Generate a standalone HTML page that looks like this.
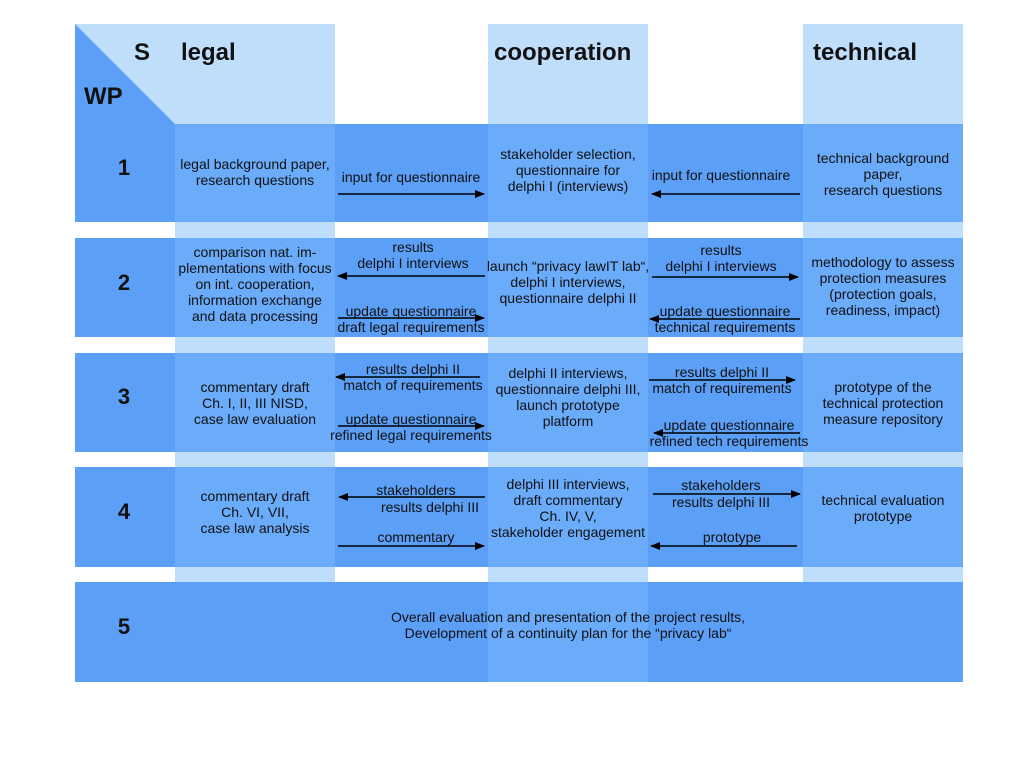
<!DOCTYPE html>
<html><head><meta charset="utf-8"><style>
html,body{margin:0;padding:0;background:#fff;}
svg{display:block;}
text{font-family:"Liberation Sans",Arial,sans-serif;fill:#111;}
.t{font-size:14px;text-anchor:middle;}
.h{font-size:24px;font-weight:bold;}
.n{font-size:22px;font-weight:bold;text-anchor:middle;}
</style></head><body>
<svg width="1024" height="768" viewBox="0 0 1024 768" xmlns="http://www.w3.org/2000/svg">
<defs>
<marker id="a" markerWidth="10" markerHeight="8" refX="9" refY="4" orient="auto" markerUnits="userSpaceOnUse">
<path d="M0,0 L10,4 L0,8 z" fill="#000"/></marker>
</defs>
<rect x="75" y="24" width="100" height="100" fill="#bfdefc"/>
<polygon points="75,24 175,124 75,124" fill="#5b9ff7"/>
<rect x="175" y="24" width="160" height="658" fill="#bfdefc"/>
<rect x="488" y="24" width="160" height="658" fill="#bfdefc"/>
<rect x="803" y="24" width="160" height="658" fill="#bfdefc"/>
<g fill="#5b9ff7">
<rect x="75" y="124" width="888" height="98"/>
<rect x="75" y="238" width="888" height="99"/>
<rect x="75" y="353" width="888" height="99"/>
<rect x="75" y="467" width="888" height="100"/>
<rect x="75" y="582" width="888" height="100"/>
</g>
<g fill="#6aabfa">
<rect x="175" y="124" width="160" height="98"/><rect x="488" y="124" width="160" height="98"/><rect x="803" y="124" width="160" height="98"/>
<rect x="175" y="238" width="160" height="99"/><rect x="488" y="238" width="160" height="99"/><rect x="803" y="238" width="160" height="99"/>
<rect x="175" y="353" width="160" height="99"/><rect x="488" y="353" width="160" height="99"/><rect x="803" y="353" width="160" height="99"/>
<rect x="175" y="467" width="160" height="100"/><rect x="488" y="467" width="160" height="100"/><rect x="803" y="467" width="160" height="100"/>
<rect x="488" y="582" width="160" height="100"/>
</g>
<text class="h" x="134" y="60">S</text>
<text class="h" x="181" y="60">legal</text>
<text class="h" x="494" y="60">cooperation</text>
<text class="h" x="813" y="60">technical</text>
<text class="h" x="84" y="104">WP</text>
<text class="n" x="124" y="175">1</text>
<text class="n" x="124" y="290">2</text>
<text class="n" x="124" y="404">3</text>
<text class="n" x="124" y="519">4</text>
<text class="n" x="124" y="634">5</text>
<g class="t">
<text class="t" x="255" y="169">legal background paper,</text>
<text class="t" x="255" y="185">research questions</text>
<text class="t" x="411" y="182">input for questionnaire</text>
<text class="t" x="568" y="159">stakeholder selection,</text>
<text class="t" x="568" y="175">questionnaire for</text>
<text class="t" x="568" y="191">delphi I (interviews)</text>
<text class="t" x="721" y="180">input for questionnaire</text>
<text class="t" x="883" y="163">technical background</text>
<text class="t" x="883" y="179">paper,</text>
<text class="t" x="883" y="195">research questions</text>
<text class="t" x="255" y="257">comparison nat. im-</text>
<text class="t" x="255" y="273">plementations with focus</text>
<text class="t" x="255" y="289">on int. cooperation,</text>
<text class="t" x="255" y="305">information exchange</text>
<text class="t" x="255" y="321">and data processing</text>
<text class="t" x="413" y="252">results</text>
<text class="t" x="413" y="268">delphi I interviews</text>
<text class="t" x="411" y="316">update questionnaire</text>
<text class="t" x="411" y="332">draft legal requirements</text>
<text class="t" x="568" y="271">launch “privacy lawIT lab“,</text>
<text class="t" x="568" y="287">delphi I interviews,</text>
<text class="t" x="568" y="303">questionnaire delphi II</text>
<text class="t" x="721" y="255">results</text>
<text class="t" x="721" y="271">delphi I interviews</text>
<text class="t" x="725" y="316">update questionnaire</text>
<text class="t" x="725" y="332">technical requirements</text>
<text class="t" x="883" y="267">methodology to assess</text>
<text class="t" x="883" y="283">protection measures</text>
<text class="t" x="883" y="299">(protection goals,</text>
<text class="t" x="883" y="315">readiness, impact)</text>
<text class="t" x="413" y="374">results delphi II</text>
<text class="t" x="413" y="390">match of requirements</text>
<text class="t" x="411" y="424">update questionnaire</text>
<text class="t" x="411" y="440">refined legal requirements</text>
<text class="t" x="255" y="392">commentary draft</text>
<text class="t" x="255" y="408">Ch. I, II, III NISD,</text>
<text class="t" x="255" y="424">case law evaluation</text>
<text class="t" x="568" y="378">delphi II interviews,</text>
<text class="t" x="568" y="394">questionnaire delphi III,</text>
<text class="t" x="568" y="410">launch prototype</text>
<text class="t" x="568" y="426">platform</text>
<text class="t" x="722" y="377">results delphi II</text>
<text class="t" x="722" y="393">match of requirements</text>
<text class="t" x="729" y="430">update questionnaire</text>
<text class="t" x="729" y="446">refined tech requirements</text>
<text class="t" x="883" y="392">prototype of the</text>
<text class="t" x="883" y="408">technical protection</text>
<text class="t" x="883" y="424">measure repository</text>
<text class="t" x="416" y="495">stakeholders</text>
<text class="t" x="430" y="512">results delphi III</text>
<text class="t" x="416" y="542">commentary</text>
<text class="t" x="255" y="501">commentary draft</text>
<text class="t" x="255" y="517">Ch. VI, VII,</text>
<text class="t" x="255" y="533">case law analysis</text>
<text class="t" x="568" y="489">delphi III interviews,</text>
<text class="t" x="568" y="505">draft commentary</text>
<text class="t" x="568" y="521">Ch. IV, V,</text>
<text class="t" x="568" y="537">stakeholder engagement</text>
<text class="t" x="721" y="490">stakeholders</text>
<text class="t" x="721" y="507">results delphi III</text>
<text class="t" x="732" y="542">prototype</text>
<text class="t" x="883" y="505">technical evaluation</text>
<text class="t" x="883" y="521">prototype</text>
<text class="t" x="568" y="622">Overall evaluation and presentation of the project results,</text>
<text class="t" x="568" y="638">Development of a continuity plan for the “privacy lab“</text>
</g>
<g stroke="#000" stroke-width="1.6" marker-end="url(#a)">
<line x1="338" y1="194" x2="484" y2="194"/>
<line x1="800" y1="194" x2="652" y2="194"/>
<line x1="485" y1="276" x2="338" y2="276"/>
<line x1="338" y1="318" x2="484" y2="318"/>
<line x1="652" y1="277" x2="798" y2="277"/>
<line x1="800" y1="319" x2="650" y2="319"/>
<line x1="480" y1="377" x2="336" y2="377"/>
<line x1="338" y1="426" x2="484" y2="426"/>
<line x1="649" y1="380" x2="795" y2="380"/>
<line x1="800" y1="433" x2="654" y2="433"/>
<line x1="485" y1="497" x2="339" y2="497"/>
<line x1="338" y1="546" x2="484" y2="546"/>
<line x1="653" y1="494" x2="800" y2="494"/>
<line x1="797" y1="546" x2="651" y2="546"/>
</g>
</svg>
</body></html>
